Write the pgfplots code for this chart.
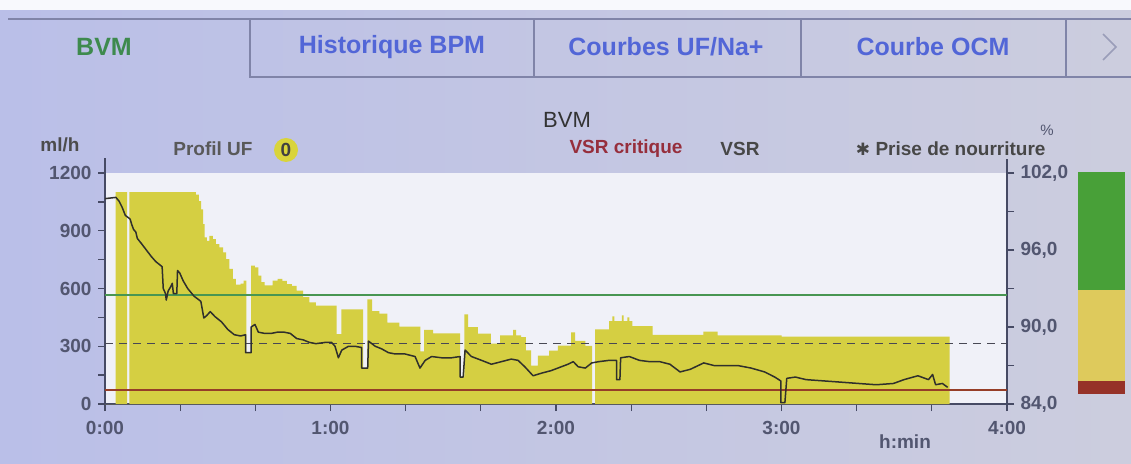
\documentclass[border=0pt]{standalone}
\usepackage{fontspec}
\setmainfont{Liberation Sans}
\newfontfamily\dejavu{DejaVu Sans}
\usepackage{pgfplots}
\usepackage{pgfplotstable}
\pgfplotsset{compat=1.18}

\definecolor{bgl}{RGB}{186,191,232}
\definecolor{bgr}{RGB}{204,205,222}
\definecolor{plotbg}{RGB}{240,241,248}
\definecolor{uf}{RGB}{213,207,66}
\definecolor{vsr}{RGB}{48,48,44}
\definecolor{gline}{RGB}{72,150,82}
\definecolor{rline}{RGB}{150,62,40}
\definecolor{dline}{RGB}{72,72,84}
\definecolor{tabblue}{RGB}{82,102,215}
\definecolor{tabgreen}{RGB}{62,138,78}
\definecolor{tabline}{RGB}{128,132,168}
\definecolor{lbl}{RGB}{82,86,112}
\definecolor{crit}{RGB}{150,46,60}
\definecolor{axcol}{RGB}{70,74,100}
\definecolor{bargreen}{RGB}{72,160,56}
\definecolor{baryellow}{RGB}{222,202,92}
\definecolor{barred}{RGB}{150,50,40}

% UF profile, ml/h (value holds until next time, min)
\pgfplotstableread{
t uf
0 0
2.8 1100
5.9 0
6.5 1100
23.3 1100
24.2 1088
25.0 1054
25.6 1011
26.1 934
26.5 866
27.1 848
27.8 873
28.7 857
29.5 831
30.4 814
31.4 788
32.2 753
33.1 702
34.0 650
34.8 620
36.1 625
36.9 641
37.6 265
38.9 719
39.9 710
40.8 667
41.6 633
42.5 616
44.6 641
45.9 650
47.2 640
48.4 623
49.7 614
51.0 589
52.7 555
54.4 528
56.1 511
61.6 363
62.9 492
68.7 186
69.8 543
71.1 482
73.0 470
75.1 423
78.3 402
83.9 274
84.9 385
87.3 367
94.5 142
95.6 465
96.6 399
99.2 365
102.7 313
105.1 356
108.6 385
109.4 356
110.7 348
112.0 278
113.4 200
115.2 251
118.2 277
120.5 303
124.0 372
125.1 328
127.8 302
129.6 0
130.4 388
134.1 431
135.0 455
135.5 431
137.5 460
138.0 431
139.0 450
139.5 431
140.3 404
145.7 359
159.2 376
163.0 356
180.0 350
224.7 0
}\uftable

% VSR, %
\pgfplotstableread{
t vsr
0 100.0
2.9 100.1
3.75 99.8
4.6 99.3
5.4 98.7
6.3 98.5
6.7 98.4
7.1 98.0
7.6 97.6
8.2 97.4
8.6 96.9
9.7 96.5
11.0 96.0
12.3 95.5
13.5 95.1
15.2 94.7
15.5 93.0
16.1 92.6
16.3 92.1
16.8 92.8
17.4 93.1
17.9 93.4
18.2 92.6
19.1 92.6
19.3 94.4
19.9 94.2
20.8 93.6
22.0 93.0
23.7 92.4
25.5 92.0
26.3 90.7
27.1 90.9
28.0 91.2
29.3 90.8
31.0 90.4
32.7 89.8
34.4 89.4
36.1 89.3
37.4 89.4
37.4 88.0
38.9 88.0
38.9 90.0
39.9 90.2
40.8 89.6
42.5 89.5
44.2 89.5
45.9 89.6
47.6 89.6
49.3 89.5
51.0 89.1
52.7 89.0
54.4 88.8
56.1 88.7
58.6 88.8
60.3 88.8
61.2 88.5
62.1 87.6
63.0 88.2
64.8 88.5
66.5 88.5
68.3 88.4
68.3 86.8
69.9 86.8
70.1 88.9
71.9 88.5
73.6 88.3
75.4 88.0
77.2 87.9
79.8 87.9
82.5 87.7
83.8 86.8
85.2 87.4
86.9 87.7
89.6 87.6
92.2 87.6
94.5 87.7
94.5 86.1
95.3 86.1
95.8 88.2
97.5 87.7
100.2 87.4
102.8 87.1
105.5 87.3
108.1 87.5
109.9 87.4
111.7 86.9
113.9 86.2
116.1 86.4
118.7 86.6
120.5 86.8
123.2 87.1
124.6 87.3
125.9 86.9
127.8 86.8
129.5 87.2
131.4 87.3
134.1 87.4
136.1 87.4
136.1 85.9
137.0 85.9
137.2 87.6
139.5 87.7
142.2 87.4
144.9 87.3
147.6 87.3
150.3 87.1
153.0 86.5
155.7 86.7
159.3 87.2
162.0 87.0
164.7 87.0
168.3 87.0
171.9 86.8
175.5 86.5
178.2 86.1
179.8 85.8
179.8 84.1
180.9 84.1
181.4 86.0
183.7 86.1
186.5 85.9
191.2 85.8
195.9 85.7
200.5 85.6
205.2 85.5
209.8 85.6
212.6 85.9
216.3 86.2
219.1 85.9
220.2 86.3
221.0 85.5
222.8 85.6
224.2 85.3
}\vsrtable

\newcommand{\lblfont}{\fontsize{19}{22}\selectfont\bfseries}
\newcommand{\tabfont}{\fontsize{25}{29}\selectfont\bfseries}

\begin{document}
\begin{tikzpicture}[x=1pt,y=1pt]
\shade[left color=bgl,right color=bgr] (0,0) rectangle (1131,463);
\fill[white!90!bgl] (0,453) rectangle (1131,463);
\useasboundingbox (0,0) rectangle (1131,463);

% tab bar
\draw[tabline, line width=1.4pt] (8,444) -- (1131,444);
\draw[tabline, line width=1.4pt] (250,444) -- (250,386) -- (1131,386);
\draw[tabline, line width=1.4pt] (534,444) -- (534,386);
\draw[tabline, line width=1.4pt] (801,444) -- (801,386);
\draw[tabline, line width=1.4pt] (1066,444) -- (1066,386);
\node[text=tabgreen, font=\tabfont] at (104,416) {BVM};
\node[text=tabblue, font=\tabfont] at (392,416) {Historique BPM};
\node[text=tabblue, font=\tabfont] at (666,416) {Courbes UF/Na+};
\node[text=tabblue, font=\tabfont] at (933,416) {Courbe OCM};
\draw[tabline!80!white, line width=1.6pt] (1103,429) -- (1116,416) -- (1103,403);

% headings
\node[text=black!80, font=\fontsize{22}{26}\selectfont] at (567,343) {BVM};
\node[text=black!70, font=\lblfont] at (60,318) {ml/h};
\node[text=black!65, font=\lblfont] at (213,314) {Profil UF};
\fill[uf!90!yellow] (286,313) circle (12);
\node[text=black!75, font=\lblfont] at (286,313) {0};
\node[text=crit, font=\lblfont] at (626,314) {VSR critique};
\node[text=black!72, font=\lblfont] at (740,314) {VSR};
\node[text=black!72, font=\fontsize{17}{20}\selectfont\dejavu] at (863,314) {✱};
\node[text=black!72, font=\lblfont, anchor=west] at (872,314) {Prise de nourriture};
\node[text=lbl, font=\fontsize{15}{17}\selectfont, inner sep=0pt] at (1047,333) {\%};
\node[text=lbl, font=\lblfont] at (905,21) {h:min};

\begin{axis}[
  at={(105pt,59pt)}, anchor=south west,
  scale only axis, width=902pt, height=231pt,
  xmin=0, xmax=240, ymin=0, ymax=1200,
  axis lines*=left,
  axis line style={axcol, line width=1.6pt},
  axis background/.style={fill=plotbg},
  xtick={0,60,120,180,240},
  xticklabels={0:00,1:00,2:00,3:00,4:00},
  minor xtick={20,40,80,100,140,160,200,220},
  ytick={0,300,600,900,1200},
  yticklabels={0,300,600,900,1200},
  minor ytick={150,450,750,1050},
  tick align=outside,
  major tick length=7pt, minor tick length=7pt,
  tick style={axcol, line width=1.3pt},
  ticklabel style={font=\lblfont, text=lbl},
  yticklabel style={xshift=-3pt},
  xticklabel style={yshift=-7pt},
]
\addplot[fill=uf, draw=none, const plot mark left] table[x=t, y=uf] {\uftable} \closedcycle;
\end{axis}

\begin{axis}[
  at={(105pt,59pt)}, anchor=south west,
  scale only axis, width=902pt, height=231pt,
  xmin=0, xmax=240, ymin=84, ymax=102,
  axis y line*=right, axis x line=none,
  axis line style={axcol, line width=1.6pt},
  ytick={84,90,96,102},
  yticklabels={{84,0},{90,0},{96,0},{102,0}},
  minor ytick={87,93,99},
  tick align=outside,
  major tick length=7pt, minor tick length=7pt,
  tick style={axcol, line width=1.3pt},
  ticklabel style={font=\lblfont, text=lbl},
  yticklabel style={xshift=3pt},
]
\addplot[gline, line width=1.4pt] coordinates {(0,92.5) (240,92.5)};
\addplot[dline, line width=1.5pt, dash pattern=on 8pt off 6pt] coordinates {(0,88.7) (240,88.7)};
\addplot[rline, line width=1.4pt] coordinates {(0,85.1) (240,85.1)};
\addplot[vsr, line width=1.5pt, line join=round] table[x=t, y=vsr] {\vsrtable};
\end{axis}

% axis lines reaching above the plot area
\draw[axcol, line width=1.6pt] (105,290) -- (105,305);
\draw[axcol, line width=1.6pt] (1007,290) -- (1007,304);

% VSR colour bar
\fill[bargreen] (1078,173) rectangle (1125,291);
\fill[baryellow] (1078,82) rectangle (1125,173);
\fill[barred] (1078,69) rectangle (1125,82);
\end{tikzpicture}
\end{document}
